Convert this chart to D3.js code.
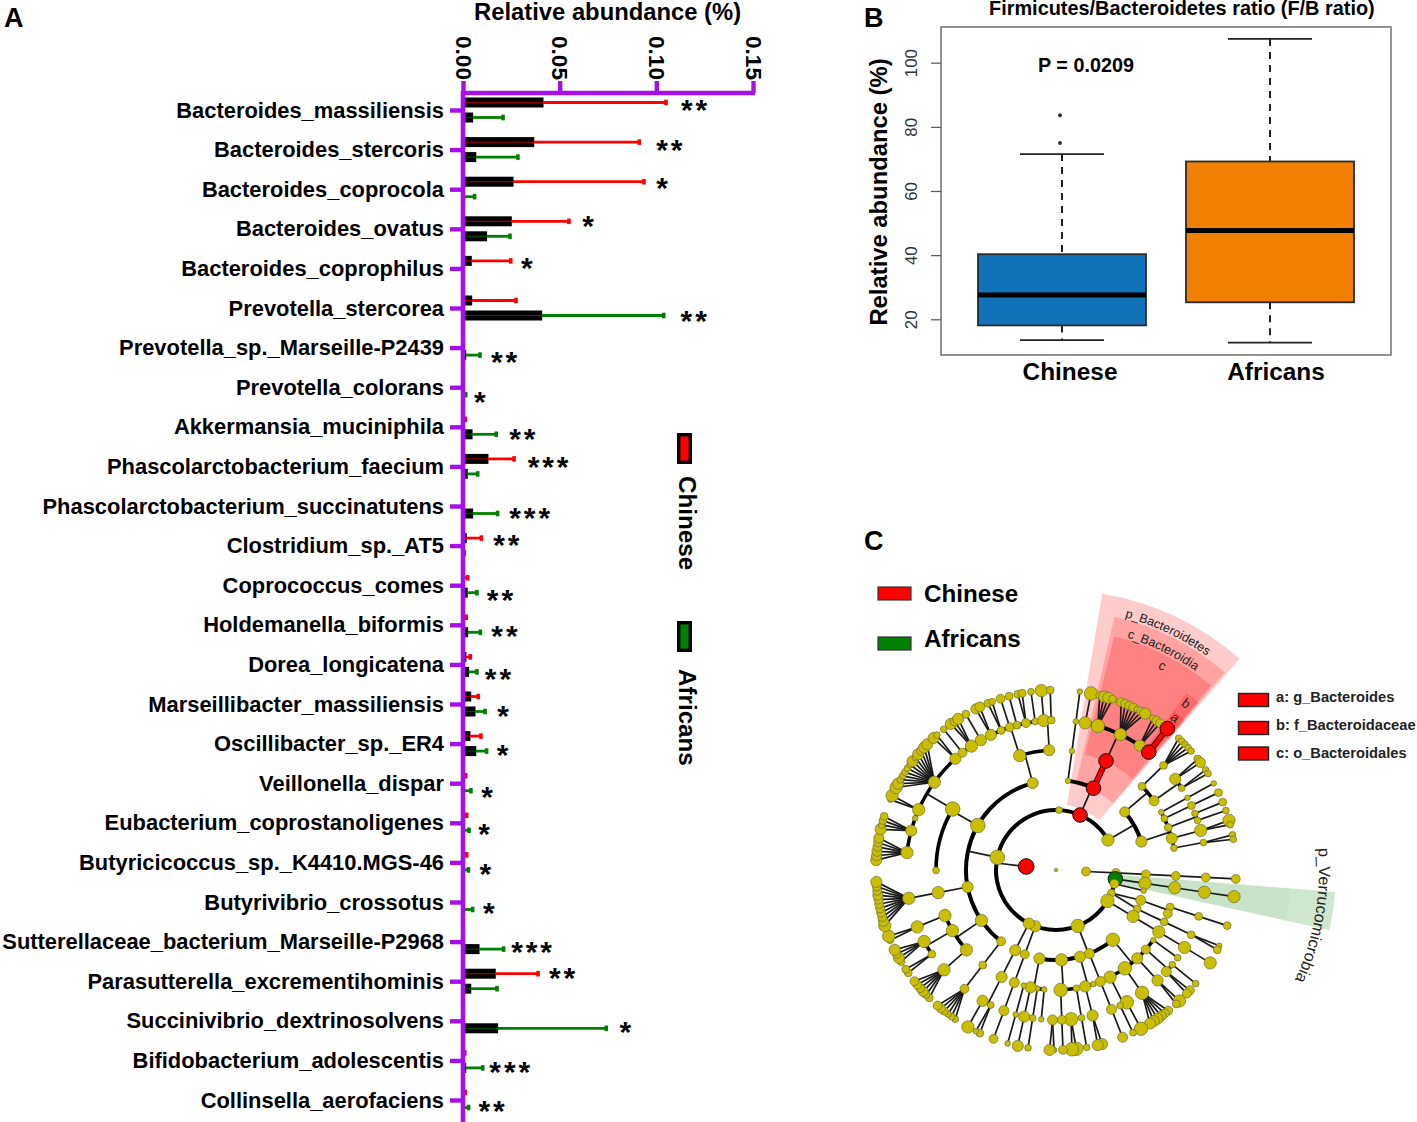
<!DOCTYPE html>
<html><head><meta charset="utf-8">
<script src="https://cdn.jsdelivr.net/npm/d3@7"></script>
<style>
html,body{margin:0;padding:0;background:#fff}
text{font-family:"Liberation Sans",Arial,sans-serif}
</style></head><body>
<svg id="c" width="1417" height="1122" viewBox="0 0 1417 1122"></svg>
<script>
// ---------- Panel A data ----------
const species = ["Bacteroides_massiliensis","Bacteroides_stercoris","Bacteroides_coprocola","Bacteroides_ovatus","Bacteroides_coprophilus","Prevotella_stercorea","Prevotella_sp._Marseille-P2439","Prevotella_colorans","Akkermansia_muciniphila","Phascolarctobacterium_faecium","Phascolarctobacterium_succinatutens","Clostridium_sp._AT5","Coprococcus_comes","Holdemanella_biformis","Dorea_longicatena","Marseillibacter_massiliensis","Oscillibacter_sp._ER4","Veillonella_dispar","Eubacterium_coprostanoligenes","Butyricicoccus_sp._K4410.MGS-46","Butyrivibrio_crossotus","Sutterellaceae_bacterium_Marseille-P2968","Parasutterella_excrementihominis","Succinivibrio_dextrinosolvens","Bifidobacterium_adolescentis","Collinsella_aerofaciens"];
const chineseMean = [.0414,.0366,.0259,.025,.0043,.0045,0,0,0,.0129,0,.0017,0,0,.0015,.004,.0036,0,0,0,0,0,.0167,0,0,0];
const chineseTop  = [.105,.0912,.0936,.0548,.0247,.0274,0,0,.0012,.0264,0,.0095,.0024,.0017,.0038,.0079,.0093,.0014,.0019,.0019,0,0,.0388,0,.0009,.0012];
const africanMean = [.005,.0066,0,.0122,0,.0407,.0014,0,.0047,.0022,.005,0,.0022,.0024,.0029,.0062,.0066,0,0,0,0,.0083,.004,.0179,.0014,0];
const africanTop  = [.0207,.0284,.006,.0243,0,.1038,.0088,.0014,.0172,.0076,.0179,.0007,.0072,.009,.0072,.0114,.0122,.0041,.0031,.0028,.005,.021,.0176,.0741,.0102,.0029];
const stars = [2,2,1,1,1,2,2,1,2,3,3,2,2,2,2,1,1,1,1,1,1,3,2,1,3,2];
const axisTicksA = [0,.05,.10,.15];
// ---------- Panel B data ----------
const groups = ["Chinese","Africans"];
const boxLow = [13.5,12.7], boxQ1 = [18.1,25.3], boxMedian = [27.6,47.7], boxQ3 = [40.3,69.2], boxHigh = [71.5,107.4];
const boxOutliers = [[75,83.6],[]];
const ticksB = [20,40,60,80,100];
// ---------- Panel C data: [node size, ...children]; a bare value is a leaf; r / g mark enriched clades ----------
const cladeTree = [1.5,
 [4,[4,[4,[4,[4,4]]]]],
 ["r7",
  ["g6.5",[5.5,[5.5,[5.5,5.5]]]],
  [4,2.5],
  [3.5,[4.5,[3.5,[3.5,3.5]],4],[3.5,[3.5,[3.5,2.5,3.5]]]],
  [6,[5.5,[5.5,[5.5,5.5]]]],
  [6,
   [6,[2.5,3],[4,[3,3],[4.5,4,4]],[5,[5,5.5,3.5]],[6,[6,4,4,4.5,5,5,5]],[5.5,[6,6],[3,3]]],
   [4.5,[4.5,[4.5,4.5]]],
   [5,2.5,[5,[5,5,5]]],
   [5.5,[3,[3,3]],[6,[6,6,6],[4,4],[4.5,2.5,5]]],
   [5,[2.5,2.5],[2.5,[3,3]],[5,[5,5]],[2.5,[2.5,2.5]]]
  ],
  [5,[4,[4.5,[4.5,4]]]],
  [5,[5,[5,[3,3.5,2.5],[5,5.5]]]],
  [6.5,
   [4,[3.5,[4,3,3,3,3.5,4,4]]],
   [5.5,
    [5.5,[5.5,3.5,3.5,4.5,4,4,4]],
    [5.5,[3.5,3.5,3.5],[5.5,3.5,5,4,5]],
    [5.5,[5.5,3,5.5]]
   ],
   [5,[5.5,[5.5,5.5,4.5,4,4,4,4,4,4.5,4,4,5]]],
   [6.5,3,[6.5,
     [5.5,5,4.5,4.5,4,4,4.5],
     [5,5,3,3.5,3.5],
     2.5,
     [5.5,2.5,5.5],
     [5.5,5.5,5,3,3,3,3,3,5,3,5,4,5,5],
     [5,5,3],
     [4,3],
     [5.5,5,4,5],
     [5,3.5]
   ]],
   [5,[5.5,[5,4.5,4.5],[3.5,3.5,3],[4,4],[3.5,3.5],[4,3.5,3.5],[3,3]],[5,[5.5,5.5],[3.5,3.5]]]
  ],
  3,
  ["r6.5",[2.5,[2.5,[2.5,2.5]]],["r6.5",["r6.5",
     [5.5,6],[6,3.5,5,5,3.5],[5.5,4,4,4,4,3,4,5],[5,3,4,4],["r6.5","r6.5"]
  ]]],
  [5.5,
   [4.5,[3.5,[3.5,3,3,3,3,3]],[4.5,[5,3.5,4.5],[3,3,3]]],
   [5,[2.5,[2.5,2.5]],[3,[3.5,3.5]],[3.5,[3,3.5],[3,3]],[5,[5.5,5.5,3]],[3,[3,3,3]]]
  ]
 ]
];
const cladeLegend = ["a: g_Bacteroides","b: f_Bacteroidaceae","c: o_Bacteroidales"];

// ---------- drawing ----------
const svg = d3.select("#c");
const PURPLE = "#A60FE8", RED="#FF0000", GREEN="#008000";
const bold = s => s.attr("font-weight","bold").attr("fill","#000");
const letter = (t,x,y)=>svg.append("text").text(t).attr("x",x).attr("y",y).attr("font-size",27).call(bold);
letter("A",4,27); letter("B",864,27); letter("C",864,550);

// Panel A
(function(){
 const x = d3.scaleLinear().domain([0,.15]).range([463,753]);
 const y = d3.scalePoint().domain(species).range([110,1100]);
 const g = svg.append("g");
 const rowGap = 7.5, barH = 10;
 const rows = [{mean:chineseMean,top:chineseTop,c:RED,off:-rowGap},{mean:africanMean,top:africanTop,c:GREEN,off:rowGap}];
 rows.forEach(r=>{
  species.forEach((s,i)=>{
   const cy = y(s)+r.off, m=r.mean[i], t=r.top[i];
   if(t<=0) return;
   if(m>0) g.append("rect").attr("x",x(0)).attr("y",cy-barH/2).attr("width",x(m)-x(0)+.5).attr("height",barH).attr("fill","#000");
   if(m>0) g.append("line").attr("x1",x(0)).attr("x2",x(m)).attr("y1",cy).attr("y2",cy).attr("stroke",r.c).attr("stroke-width",1.2).attr("opacity",.6);
   g.append("line").attr("x1",x(m)).attr("x2",x(t)).attr("y1",cy).attr("y2",cy).attr("stroke",r.c).attr("stroke-width",2.8);
   g.append("rect").attr("x",x(t)-1.8).attr("y",cy-2.8).attr("width",3.6).attr("height",5.6).attr("fill",r.c);
  });
 });
 // stars: [gap from the longer whisker, offset from the row tick]
 const starPlace = [[28,-4],[30,-4.5],[18,-6],[19,-7],[16,-5],[30,9],[24,10],[14,10],[26,8],[34,-4],[32,8],[25,-5],[23,10],[24,7],[21,10],[18,8],[16,7],[16,9],[15,7],[17,7],[16,7],[28,6],[24,-8],[19,7],[27,7],[23,7]];
 species.forEach((s,i)=>{
  const top=Math.max(chineseTop[i],africanTop[i]);
  g.append("text").text("*".repeat(stars[i])).attr("text-anchor","middle")
   .attr("x",x(top)+starPlace[i][0]+1.5).attr("y",y(s)+starPlace[i][1]+14.4)
   .attr("font-size",30).attr("font-weight","bold").attr("letter-spacing",2.9).attr("fill","#000");
 });
 const ax = svg.append("g").attr("transform","translate(0,93)")
   .call(d3.axisTop(x).tickValues(axisTicksA).tickFormat(d3.format(".2f")).tickSize(12));
 ax.select(".domain").attr("d","M463,0H755").attr("stroke",PURPLE).attr("stroke-width",4.6);
 ax.selectAll("line").attr("stroke",PURPLE).attr("stroke-width",4.4);
 ax.selectAll("text").attr("transform","rotate(90)").attr("text-anchor","end").attr("x",-13).attr("y",8).attr("dy",0)
   .attr("font-size",22.6).attr("font-family",'"Liberation Sans"').call(bold);
 const ay = svg.append("g").attr("transform","translate(463,0)")
   .call(d3.axisLeft(y).tickSize(13).tickPadding(6));
 ay.select(".domain").attr("d","M0,91V1122").attr("stroke",PURPLE).attr("stroke-width",4.6);
 ay.selectAll("line").attr("stroke",PURPLE).attr("stroke-width",4.4);
 ay.selectAll("text").attr("font-size",21.9).attr("dy",7).attr("font-family",'"Liberation Sans"').call(bold);
 svg.append("text").text("Relative abundance (%)").attr("x",474).attr("y",20).attr("font-size",23.8).call(bold);
 // legend
 [[433,"Chinese",476,RED],[621,"Africans",669,GREEN]].forEach(([ry,t,ty,c])=>{
  svg.append("rect").attr("x",678.7).attr("y",ry+1.7).attr("width",11.6).attr("height",27.6).attr("fill",c).attr("stroke","#000").attr("stroke-width",3.4);
  svg.append("text").text(t).attr("transform",`translate(679,${ty}) rotate(90)`).attr("font-size",24.2).call(bold);
 });
})();

// Panel B
(function(){
 const y = d3.scaleLinear().domain([20,100]).range([319.3,62.7]);
 const x = d3.scalePoint().domain(groups).range([1062,1270]);
 svg.append("rect").attr("x",941).attr("y",27).attr("width",450).attr("height",328).attr("fill","none").attr("stroke","#707070").attr("stroke-width",1.5);
 const fills=["#1072B8","#F28000"], hw=84, cap=42;
 groups.forEach((d,i)=>{
  const cx=x(d), s=svg.append("g");
  [[boxHigh[i],boxQ3[i]],[boxQ1[i],boxLow[i]]].forEach(([a,b])=>s.append("line").attr("x1",cx).attr("x2",cx).attr("y1",y(a)).attr("y2",y(b)).attr("stroke","#222").attr("stroke-width",2).attr("stroke-dasharray","7 6"));
  [boxHigh[i],boxLow[i]].forEach(v=>s.append("line").attr("x1",cx-cap).attr("x2",cx+cap).attr("y1",y(v)).attr("y2",y(v)).attr("stroke","#222").attr("stroke-width",1.8));
  s.append("rect").attr("x",cx-hw).attr("width",2*hw).attr("y",y(boxQ3[i])).attr("height",y(boxQ1[i])-y(boxQ3[i])).attr("fill",fills[i]).attr("stroke","#2a2a2a").attr("stroke-width",1.8);
  s.append("line").attr("x1",cx-hw).attr("x2",cx+hw).attr("y1",y(boxMedian[i])).attr("y2",y(boxMedian[i])).attr("stroke","#000").attr("stroke-width",5);
  boxOutliers[i].forEach(v=>s.append("circle").attr("cx",cx-2).attr("cy",y(v)).attr("r",2).attr("fill","#333"));
 });
 const ay = svg.append("g").attr("transform","translate(941,0)").call(d3.axisLeft(y).tickValues(ticksB).tickSize(10));
 ay.select(".domain").remove();
 ay.selectAll("line").attr("stroke","#555").attr("stroke-width",1.2);
 ay.selectAll("text").attr("transform","rotate(-90)").attr("text-anchor","middle").attr("x",0).attr("y",-24).attr("dy",0)
   .attr("font-size",16.8).attr("fill","#333").attr("font-family",'"Liberation Sans"');
 const ax = svg.append("g").attr("transform","translate(7,355)").call(d3.axisBottom(x).tickSize(0));
 ax.select(".domain").remove();
 ax.selectAll("text").attr("y",25).attr("dy",0).attr("font-size",24.4).attr("font-family",'"Liberation Sans"').call(bold);
 ax.selectAll("text").attr("x",(d,i)=>i?-1.5:0.5);
 svg.append("text").text("Firmicutes/Bacteroidetes ratio (F/B ratio)").attr("x",989).attr("y",15).attr("font-size",19.9).call(bold);
 svg.append("text").text("P = 0.0209").attr("x",1038).attr("y",72).attr("font-size",19.8).call(bold);
 svg.append("text").text("Relative abundance (%)").attr("transform","translate(887,192) rotate(-90)").attr("text-anchor","middle").attr("font-size",23.8).call(bold);
})();

// Panel C
(function(){
 const C=[1056,870];
 const toH = a => Array.isArray(a)?{v:a[0],children:a.slice(1).map(toH)}:{v:a};
 const root = d3.hierarchy(toH(cladeTree));
 const commonDepth=(a,b)=>{ while(a.depth>b.depth)a=a.parent; while(b.depth>a.depth)b=b.parent; while(a!==b){a=a.parent;b=b.parent;} return a.depth; };
 const gapByDepth = {5:1.5,4:3,3:3.5,2:3.8,1:5,0:6};
 d3.cluster().size([353,1]).separation((a,b)=>gapByDepth[commonDepth(a,b)])(root);
 root.eachAfter(n=>{ if(n.children) n.x=d3.mean(n.leaves(),l=>l.x); });
 const angle = d3.scaleLinear().domain([0,353]).range([90,443]);
 const rad = d3.scaleLinear().domain([0,6]).range([0,180]);
 const P=(deg,r)=>{const p=d3.pointRadial(deg*Math.PI/180,r);return [p[0]+C[0],p[1]+C[1]];};
 const pos=n=>P(angle(n.x),rad(n.depth));
 const g = svg.append("g");
 // highlighted sectors: [start deg, end deg, inner r, outer r, colour, opacity]
 const sectors=[[9.5,41,66,280,RED,.2],[13,40.5,88,260,RED,.2],[14,40,119,241,RED,.2],[36.4,40.4,150,220,RED,.2],[36.7,40.7,172,198,RED,.2],[94.5,102.4,62,280,GREEN,.19],[94.5,102.4,62,235,GREEN,.03]];
 sectors.forEach(([a,b,r0,r1,c,o])=>{
  g.append("path").attr("transform",`translate(${C})`).attr("d",d3.arc()({innerRadius:r0,outerRadius:r1,startAngle:a*Math.PI/180,endAngle:b*Math.PI/180})).attr("fill",c).attr("opacity",o);
 });
 const arcPath=(a0,a1,r)=>{const p=d3.path();p.arc(C[0],C[1],r,(a0-90)*Math.PI/180,(a1-90)*Math.PI/180,a1<a0);return p.toString();};
 const isEnriched=n=>typeof n.data.v==="string"&&n.data.v[0]==="r";
 root.descendants().forEach(n=>{
  if(!n.children||n.depth===0) return;
  const ch=n.children, [px,py]=pos(n);
  const span=ch[ch.length-1].x-ch[0].x;
  const straight = ch.length===1 || ch[0].depth===6 || (n.depth===2&&span<10);
  if(straight){
   ch.forEach(c=>{
    const [cx,cy]=pos(c);
    if(isEnriched(n)&&isEnriched(c)){
     g.append("line").attr("x1",px).attr("y1",py).attr("x2",cx).attr("y2",cy).attr("stroke","#300").attr("stroke-width",6);
     g.append("line").attr("x1",px).attr("y1",py).attr("x2",cx).attr("y2",cy).attr("stroke",RED).attr("stroke-width",4);
    } else g.append("line").attr("x1",px).attr("y1",py).attr("x2",cx).attr("y2",cy).attr("stroke","#1a1a1a").attr("stroke-width",1.7);
   });
  } else {
   const r=rad(ch[0].depth), a=angle(n.x);
   const [ex,ey]=P(a,r);
   g.append("line").attr("x1",px).attr("y1",py).attr("x2",ex).attr("y2",ey).attr("stroke","#1a1a1a").attr("stroke-width",1.7);
   g.append("path").attr("d",arcPath(angle(ch[0].x),angle(ch[ch.length-1].x),r)).attr("fill","none").attr("stroke","#000").attr("stroke-width",n.depth<=2?4:3.6);
  }
 });
 root.descendants().forEach(n=>{
  const v=n.data.v, en=typeof v==="string", size=en?parseFloat(v.slice(1)):v, [x,y]=pos(n);
  g.append("circle").attr("cx",x).attr("cy",y).attr("r",size*1.12)
   .attr("fill",en?(v[0]==="r"?RED:GREEN):"#C9BE00")
   .attr("stroke",en?"#111":"#6b6b3a").attr("stroke-width",en?1:.7);
 });
 // sector labels on circular paths
 const defs=svg.append("defs");
 const onArc=(id,a0,a1,r,t,fs)=>{
  defs.append("path").attr("id",id).attr("d",arcPath(a0,a1,r));
  svg.append("text").attr("font-size",fs).attr("fill","#222").append("textPath").attr("href","#"+id).attr("startOffset","50%").attr("text-anchor","middle").text(t);
 };
 onArc("sa",0,50.4,262,"p_Bacteroidetes",12.6);
 onArc("sb",0,52,243,"c_Bacteroidia",12.6);
 onArc("sc",10,45,226,"c",13);
 onArc("sd",25,51,207,"b",13);
 onArc("se",25,51,189,"a",13);
 onArc("sf",70,130,263,"p_Verrucomicrobia",16.2);
 // legends
 [["Chinese",RED,602,587],["Africans",GREEN,647,637]].forEach(([t,c,ty,ry])=>{
  svg.append("rect").attr("x",878).attr("y",ry).attr("width",33).attr("height",13).attr("fill",c).attr("stroke","#333").attr("stroke-width",1.2);
  svg.append("text").text(t).attr("x",924).attr("y",ty).attr("font-size",24.2).call(bold);
 });
 cladeLegend.forEach((t,i)=>{
  const yy=[700,728,753.5][i];
  svg.append("rect").attr("x",1238.5).attr("y",yy-6.5).attr("width",30).attr("height",13).attr("fill",RED).attr("stroke","#222").attr("stroke-width",1.4);
  svg.append("text").text(t).attr("x",1276).attr("y",[702,730,758][i]).attr("font-size",14.7).attr("font-weight","bold").attr("fill","#222");
 });
})();
</script>
</body></html>
